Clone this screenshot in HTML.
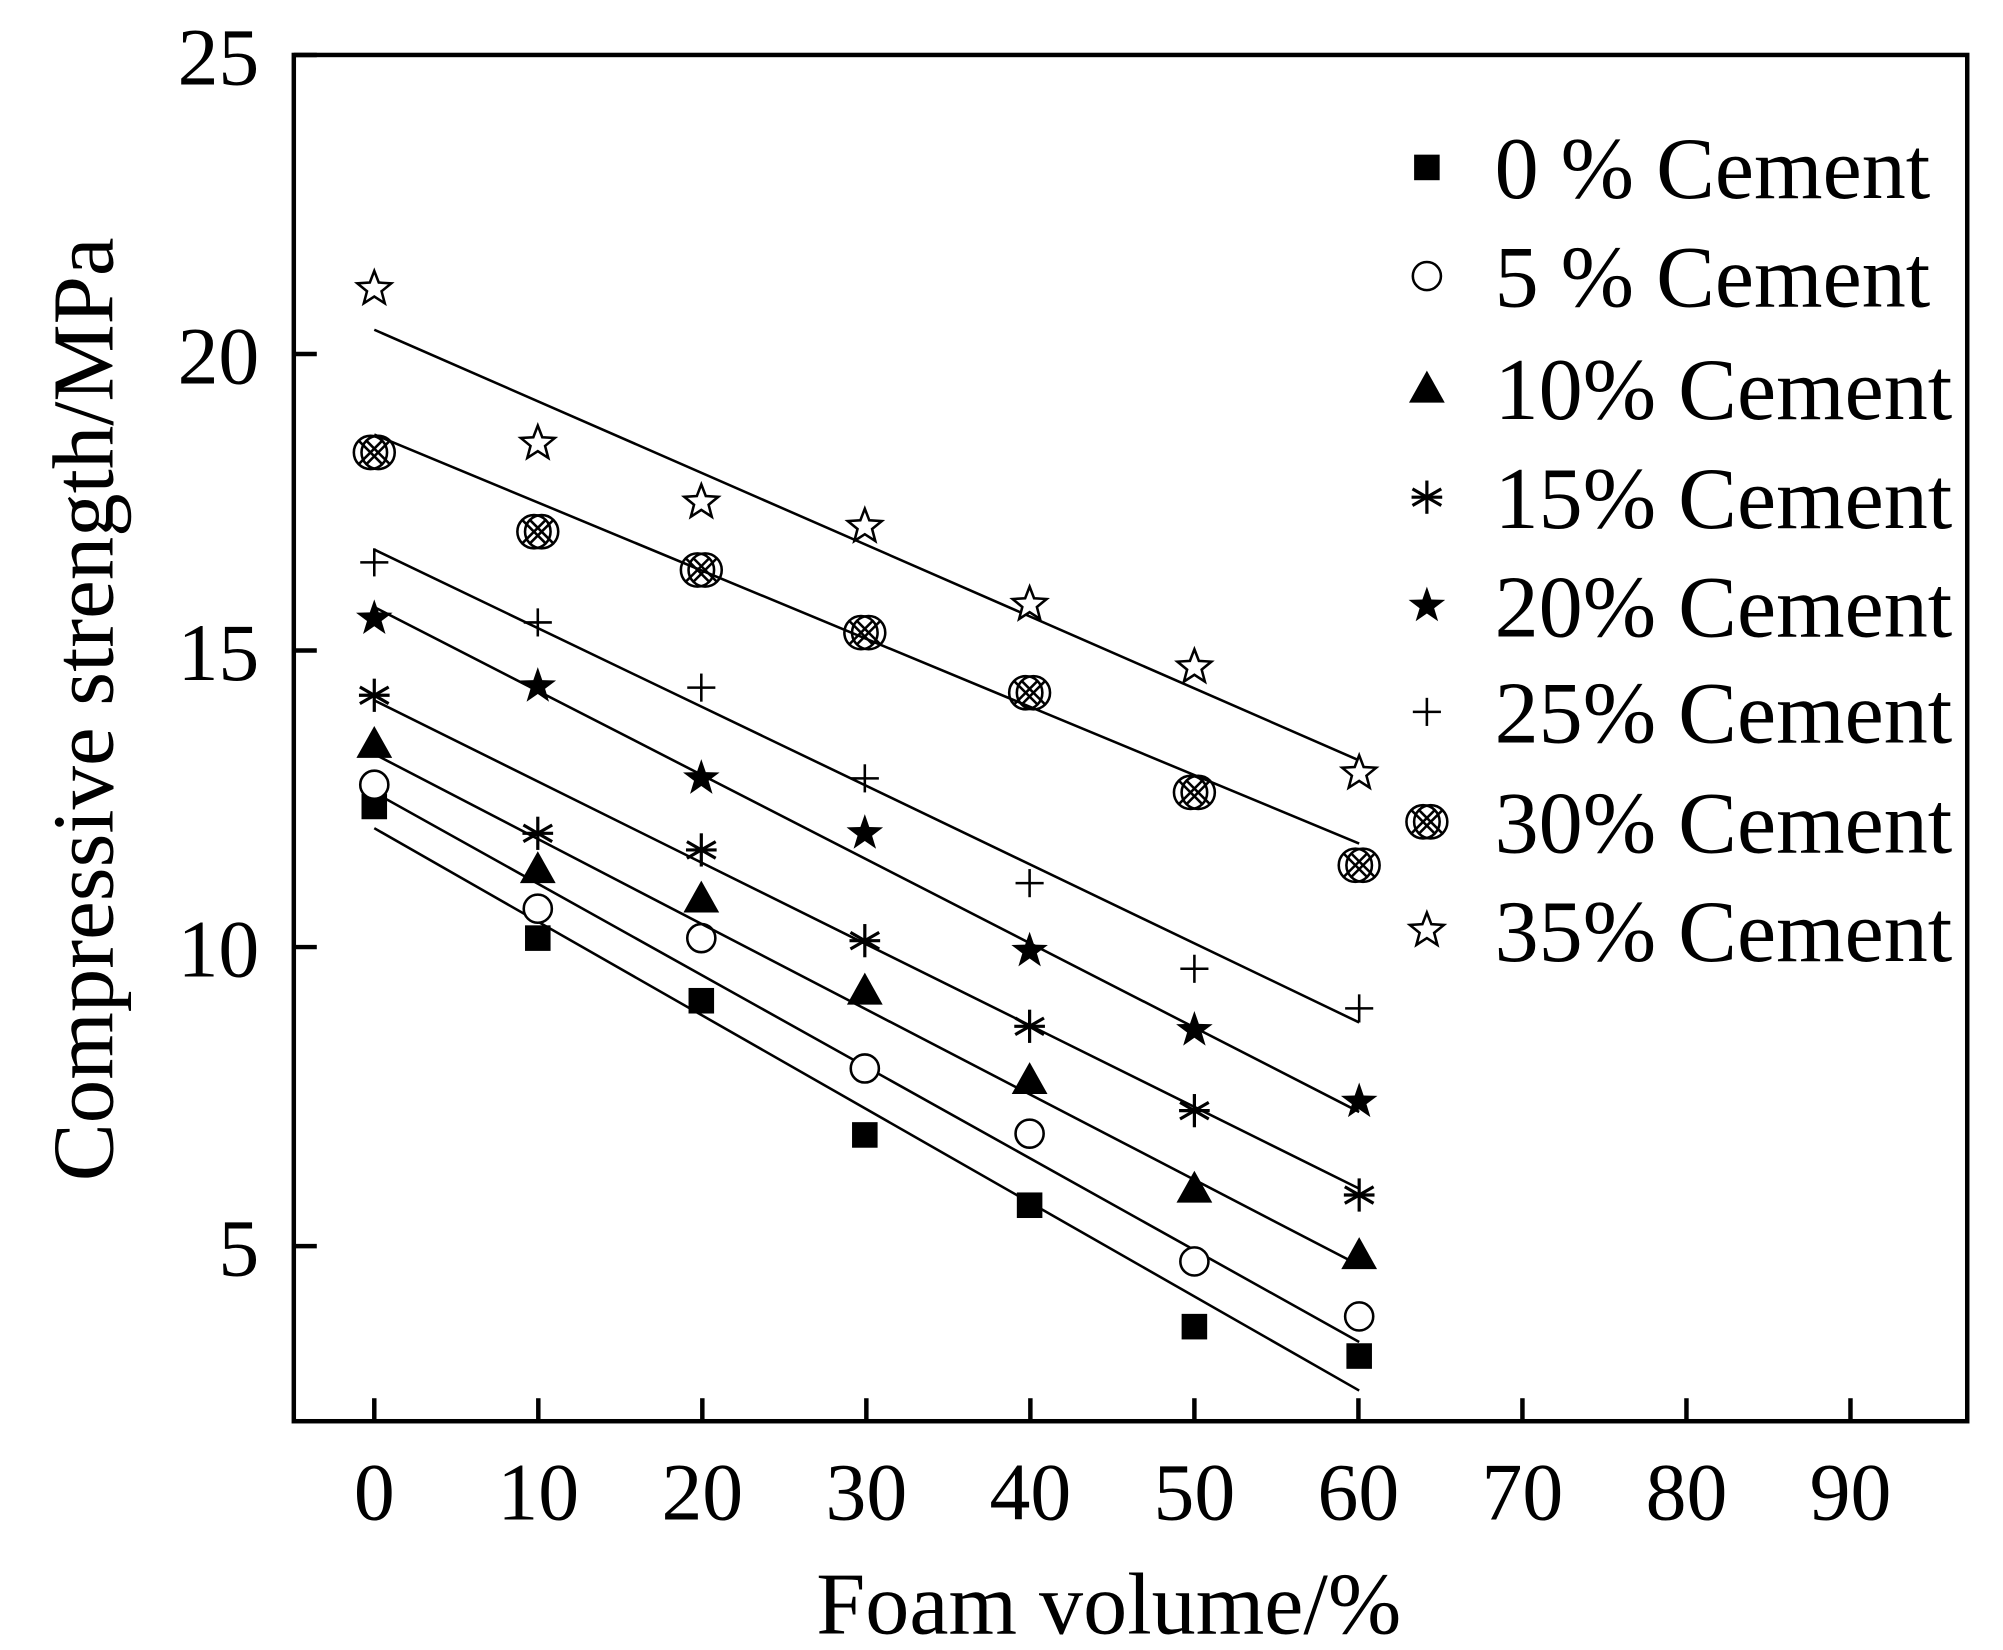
<!DOCTYPE html>
<html><head><meta charset="utf-8"><style>html,body{margin:0;padding:0;background:#fff}svg{display:block}</style></head>
<body>
<svg id="s" width="2003" height="1650" viewBox="0 0 1568 1291" preserveAspectRatio="none" xmlns="http://www.w3.org/2000/svg" font-family="Liberation Serif, serif">
<rect width="1568" height="1291" fill="#fff"/>
<g id="g"></g>
</svg>
<script>
const g=document.getElementById('g');let h='';
const X=[293,421,549,677,806,935,1064];
h+='<rect x="230" y="43" width="1310" height="1069" fill="none" stroke="#000" stroke-width="3.5"/>';
const yt=[[25,43],[20,277],[15,509],[10,741],[5,975]];
for(const [v,y] of yt){h+=`<line x1="230" y1="${y}" x2="248" y2="${y}" stroke="#000" stroke-width="3.5"/>`;
h+=`<text x="203" y="${y+23}" font-size="64" text-anchor="end">${v}</text>`;}
for(let i=0;i<10;i++){const x=293+128.4*i;h+=`<line x1="${x}" y1="1112" x2="${x}" y2="1094" stroke="#000" stroke-width="3.5"/>`;
h+=`<text x="${x}" y="1189" font-size="64" text-anchor="middle">${i*10}</text>`;}
h+='<text x="868" y="1278" font-size="69" text-anchor="middle">Foam volume/%</text>';
h+='<text transform="translate(88,555) rotate(-90)" font-size="68" text-anchor="middle">Compressive strength/MPa</text>';
const S=[
 {d:[631,734,783,888,943,1038,1061],l:[648,1088],m:'sq',n:'0 % Cement'},
 {d:[614,711,734,836,887,987,1030],l:[620,1050],m:'ci',n:'5 % Cement'},
 {d:[582,680,703,775,845,930,982],l:[590,990],m:'tr',n:'10% Cement'},
 {d:[544,652,665,736,803,869,935],l:[548,930],m:'as',n:'15% Cement'},
 {d:[484,537,609,652,744,806,862],l:[475,870],m:'fs',n:'20% Cement'},
 {d:[440,487,538,609,691,758,789],l:[430,800],m:'pl',n:'25% Cement'},
 {d:[354,416,446,495,542,620,677],l:[340,660],m:'cx',n:'30% Cement'},
 {d:[226,347,393,412,473,522,605],l:[258,595],m:'os',n:'35% Cement'}];
function star(x,y,R,r){let p=[];for(let k=0;k<10;k++){const a=-Math.PI/2+k*Math.PI/5,rr=k%2?r:R;p.push((x+rr*Math.cos(a)).toFixed(1)+','+(y+rr*Math.sin(a)).toFixed(1));}return p.join(' ');}
function mk(t,x,y){
 switch(t){
 case 'sq':return `<rect x="${x-10}" y="${y-10}" width="20" height="20" fill="#000"/>`;
 case 'ci':return `<circle cx="${x}" cy="${y}" r="11" fill="#fff" stroke="#000" stroke-width="2"/>`;
 case 'tr':return `<polygon points="${x},${y-14} ${x-14},${y+11} ${x+14},${y+11}" fill="#000"/>`;
 case 'as':{let s='';for(const a of [0,60,120]){const r=a*Math.PI/180;s+=`<line x1="${x-13*Math.sin(r)}" y1="${y-13*Math.cos(r)}" x2="${x+13*Math.sin(r)}" y2="${y+13*Math.cos(r)}" stroke="#000" stroke-width="2.5"/>`;}s+=`<line x1="${x-12}" y1="${y}" x2="${x+12}" y2="${y}" stroke="#000" stroke-width="2.5"/>`;return s;}
 case 'fs':return `<polygon points="${star(x,y,15,6)}" fill="#000"/>`;
 case 'pl':return `<line x1="${x-11}" y1="${y}" x2="${x+11}" y2="${y}" stroke="#000" stroke-width="2"/><line x1="${x}" y1="${y-11}" x2="${x}" y2="${y+11}" stroke="#000" stroke-width="2"/>`;
 case 'cx':{let s='';for(const dx of [-3,3]){const c=x+dx;s+=`<circle cx="${c}" cy="${y}" r="13" fill="none" stroke="#000" stroke-width="2"/><line x1="${c-9}" y1="${y-9}" x2="${c+9}" y2="${y+9}" stroke="#000" stroke-width="2"/><line x1="${c-9}" y1="${y+9}" x2="${c+9}" y2="${y-9}" stroke="#000" stroke-width="2"/>`;}return s;}
 case 'os':return `<polygon points="${star(x,y,14,6)}" fill="#fff" stroke="#000" stroke-width="2"/>`;
 }}
const LY=[131,216,304,389,474,557,643,728];
S.forEach((s,i)=>{
 h+=`<line x1="293" y1="${s.l[0]}" x2="1064" y2="${s.l[1]}" stroke="#000" stroke-width="2"/>`;
 s.d.forEach((y,j)=>h+=mk(s.m,X[j],y));
 h+=mk(s.m,1117,LY[i]);
 h+=`<text x="1170" y="${LY[i]+24}" font-size="69">${s.n}</text>`;
});
g.innerHTML=h;
</script>
</body></html>
